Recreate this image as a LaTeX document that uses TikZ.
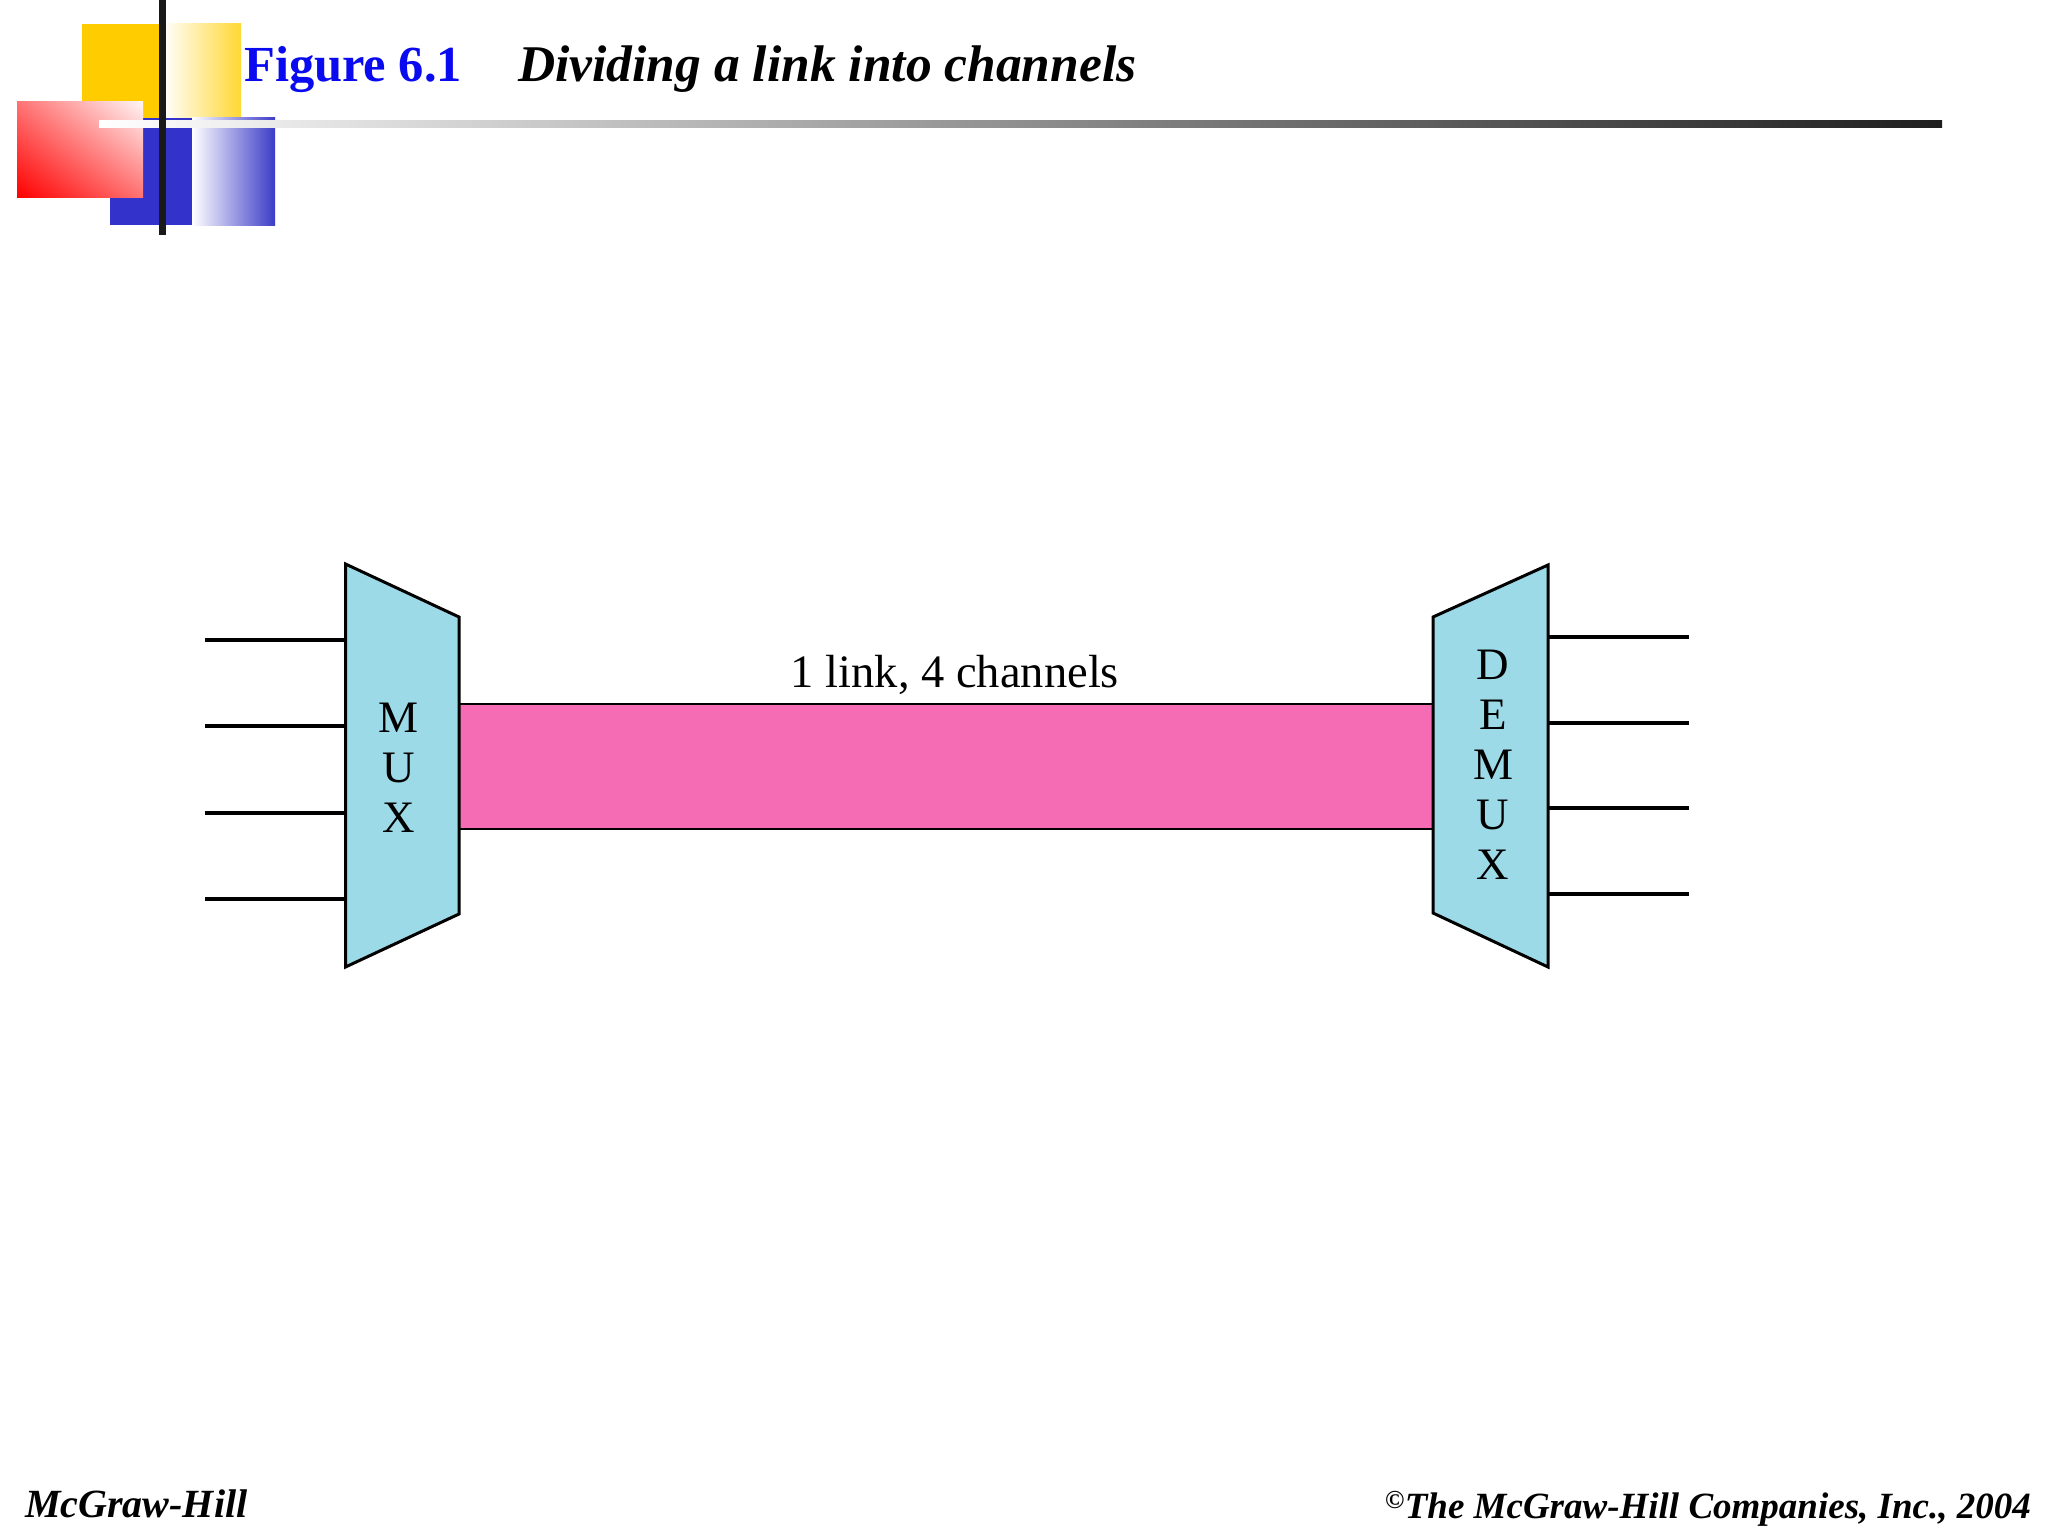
\documentclass[tikz,border=0pt]{standalone}
\usepackage{fontspec}
\setmainfont{Liberation Serif}
\usetikzlibrary{calc,shadings}
\definecolor{muxcyan}{RGB}{157,218,232}
\definecolor{linkpink}{RGB}{245,107,180}
\definecolor{titleblue}{RGB}{10,10,240}
\definecolor{decoyellow}{RGB}{255,204,0}
\definecolor{decoyellowB}{RGB}{255,216,50}
\definecolor{decoblue}{RGB}{51,51,204}
\definecolor{decoblueB}{RGB}{60,60,200}
\definecolor{decored}{RGB}{255,0,0}
\tikzset{
  wire/.style={line width=3.5pt, line cap=butt},
  muxshape/.style={draw=black, line width=3pt, fill=muxcyan, line join=miter},
  linkbar/.style={draw=black, line width=2.5pt, fill=linkpink},
  muxtext/.style={inner sep=0pt, align=center, font=\fontsize{45}{50}\selectfont},
  labeltext/.style={inner sep=0pt, font=\fontsize{46.5}{54}\selectfont},
  titletext/.style={inner sep=0pt, anchor=base west},
  foottext/.style={inner sep=0pt, font=\bfseries\itshape}
}
\begin{document}
\begin{tikzpicture}[x=1pt,y=-1pt]
\useasboundingbox (0,0) rectangle (2048,1536);
\fill[white] (0,0) rectangle (2048,1536);

% --- decoration top-left ---
\fill[decoyellow] (82,24) rectangle (163,118);
\shade[left color=white, right color=decoyellowB] (163,24) rectangle (241,118);
\fill[decoblue] (110,118) rectangle (192,225);
\shade[left color=white, right color=decoblueB] (192,118) rectangle (275,225);
\shade[lower left=decored, upper right=red!4, upper left=red!55, lower right=red!55] (17,102) rectangle (143,197);
\shade[left color=white, right color=black!88] (99,120.5) rectangle (1942,127.5);
\fill[black!90] (159,0) rectangle (166,235);

% --- title ---
\node[titletext, text=titleblue, font=\fontsize{50.5}{60}\selectfont\bfseries] (fig) at (244,82) {Figure 6.1};
\node[titletext, font=\fontsize{51.5}{60}\selectfont\bfseries\itshape] (ttl) at (518,82) {Dividing a link into channels};

% --- link ---
\coordinate (muxLT) at (345.5,564);
\coordinate (muxLB) at (345.5,967);
\coordinate (muxRT) at (459,617);
\coordinate (muxRB) at (459,914);
\coordinate (dmxLT) at (1433,617);
\coordinate (dmxLB) at (1433,913);
\coordinate (dmxRT) at (1548,565);
\coordinate (dmxRB) at (1548,967);

\draw[linkbar] (459,704) rectangle (1433,829);
\node[labeltext, anchor=base] (lbl) at (955,687) {1 link, 4 channels};

\draw[muxshape] (muxLT) -- (muxRT) -- (muxRB) -- (muxLB) -- cycle;
\draw[muxshape] (dmxLT) -- (dmxRT) -- (dmxRB) -- (dmxLB) -- cycle;

\node[muxtext] (mux) at (399,768) {M\\U\\X};
\node[muxtext] (demux) at (1493,765) {D\\E\\M\\U\\X};

% inputs
\foreach \i/\y in {1/640,2/726,3/813,4/899}{
  \coordinate (in\i) at (205,\y);
  \draw[wire] (in\i) -- (in\i -| muxLT);
}
% outputs
\foreach \i/\y in {1/637,2/723,3/808,4/894}{
  \coordinate (out\i) at (1689,\y);
  \draw[wire] (out\i -| dmxRT) -- (out\i);
}

% --- footer ---
\node[foottext, anchor=base west, font=\fontsize{40}{46}\selectfont\bfseries\itshape] (fl) at (25,1517) {McGraw-Hill};
\node[foottext, anchor=base east, font=\fontsize{37}{44}\selectfont\bfseries\itshape] (fr) at (2031,1518) {\textsuperscript{\copyright}The McGraw-Hill Companies, Inc., 2004};
\end{tikzpicture}
\end{document}
